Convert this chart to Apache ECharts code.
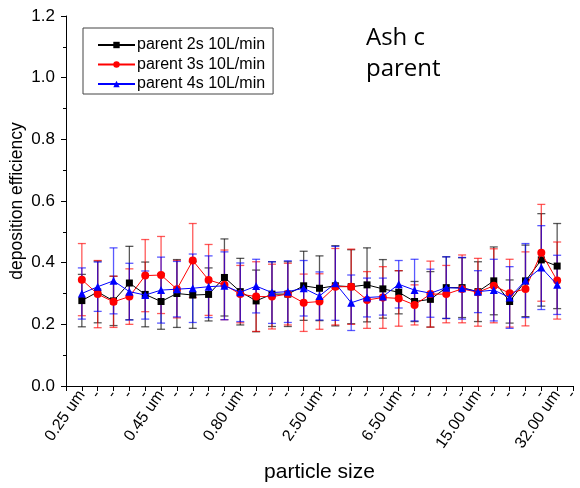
<!DOCTYPE html>
<html>
<head>
<meta charset="utf-8">
<script src="https://cdn.jsdelivr.net/npm/echarts@6/dist/echarts.min.js"></script>
<style>
  html, body { margin: 0; padding: 0; background: #fff; }
  #chart { width: 580px; height: 488px; }
</style>
</head>
<body>
<div id="chart"></div>
<script>
// x categories (index 0 and 32 are empty slots at the axis ends)
const categories = ['', '0.25 um', '-', '-', '-', '-', '0.45 um', '-', '-', '-', '-',
  '0.80 um', '-', '-', '-', '-', '2.50 um', '-', '-', '-', '-',
  '6.50 um', '-', '-', '-', '-', '15.00 um', '-', '-', '-', '-', '32.00 um', '-']

const seriesNames = ['parent 2s 10L/min', 'parent 3s 10L/min', 'parent 4s 10L/min']

// means
const black = [null, 0.277, 0.305, 0.276, 0.334, 0.297, 0.274, 0.300, 0.295, 0.297, 0.352,
  0.306, 0.276, 0.298, 0.298, 0.325, 0.317, 0.325, 0.322, 0.328, 0.315,
  0.304, 0.274, 0.281, 0.319, 0.319, 0.306, 0.341, 0.274, 0.341, 0.409, 0.389, null]
const red = [null, 0.345, 0.298, 0.273, 0.290, 0.358, 0.360, 0.314, 0.407, 0.344, 0.328,
  0.298, 0.290, 0.290, 0.298, 0.270, 0.274, 0.322, 0.322, 0.279, 0.287,
  0.284, 0.263, 0.298, 0.298, 0.315, 0.304, 0.325, 0.301, 0.315, 0.432, 0.342, null]
const blue = [null, 0.300, 0.322, 0.341, 0.306, 0.295, 0.311, 0.314, 0.317, 0.322, 0.325,
  0.304, 0.324, 0.303, 0.306, 0.317, 0.292, 0.333, 0.270, 0.287, 0.290,
  0.330, 0.311, 0.301, 0.319, 0.317, 0.306, 0.311, 0.287, 0.342, 0.384, 0.328, null]

// error (+/-)
const blackErr = [null, 0.085, 0.100, 0.080, 0.119, 0.105, 0.090, 0.110, 0.108, 0.086, 0.125,
  0.108, 0.100, 0.105, 0.105, 0.112, 0.105, 0.130, 0.120, 0.120, 0.095,
  0.070, 0.065, 0.090, 0.100, 0.097, 0.097, 0.110, 0.070, 0.116, 0.150, 0.138, null]
const redErr = [null, 0.117, 0.109, 0.083, 0.090, 0.117, 0.125, 0.093, 0.120, 0.115, 0.113,
  0.093, 0.113, 0.105, 0.100, 0.093, 0.090, 0.124, 0.122, 0.092, 0.100,
  0.090, 0.065, 0.107, 0.093, 0.110, 0.110, 0.120, 0.110, 0.120, 0.157, 0.125, null]
const blueErr = [null, 0.083, 0.080, 0.107, 0.092, 0.078, 0.107, 0.090, 0.111, 0.100, 0.110,
  0.095, 0.087, 0.100, 0.100, 0.090, 0.078, 0.120, 0.090, 0.063, 0.060,
  0.077, 0.100, 0.078, 0.100, 0.100, 0.068, 0.100, 0.100, 0.120, 0.136, 0.096, null]

const colors = ['#000000', '#ff0000', '#0000ff']
const symbols = ['rect', 'circle', 'triangle']

const chart = echarts.init(document.getElementById('chart'), null, { renderer: 'canvas' })

// error bars as custom series
function errorBars(means, errs, color) {
  const data = []
  means.forEach((m, i) => {
    if (m != null) data.push([i, m - errs[i], m + errs[i]])
  })
  return {
    type: 'custom',
    silent: true,
    z: 1,
    data: data,
    encode: { x: 0, y: [1, 2] },
    renderItem(params, api) {
      const i = api.value(0)
      const lo = api.coord([i, api.value(1)])
      const hi = api.coord([i, api.value(2)])
      const w = 4
      const style = { stroke: color, lineWidth: 1.3, opacity: 0.65 }
      return {
        type: 'group',
        children: [
          { type: 'line', shape: { x1: lo[0], y1: lo[1], x2: hi[0], y2: hi[1] }, style },
          { type: 'line', shape: { x1: lo[0] - w, y1: lo[1], x2: lo[0] + w, y2: lo[1] }, style },
          { type: 'line', shape: { x1: hi[0] - w, y1: hi[1], x2: hi[0] + w, y2: hi[1] }, style }
        ]
      }
    }
  }
}

const means = [black, red, blue]
const errs = [blackErr, redErr, blueErr]

const series = []
means.forEach((m, k) => series.push(errorBars(m, errs[k], colors[k])))
means.forEach((m, k) => {
  series.push({
    name: seriesNames[k],
    type: 'line',
    z: 2 + k,
    data: m,
    symbol: symbols[k],
    symbolSize: k === 0 ? 7 : 8,
    showAllSymbol: true,
    lineStyle: { color: colors[k], width: 1 },
    itemStyle: { color: colors[k] }
  })
})

const option = {
  animation: false,
  textStyle: { fontFamily: 'Liberation Sans, Arial, sans-serif' },
  grid: { left: 66, right: 7, top: 16, bottom: 102, outerBoundsMode: 'none', containLabel: false },
  legend: {
    data: seriesNames,
    orient: 'vertical',
    left: 83,
    top: 28,
    padding: [9, 8, 2, 14],
    itemGap: 3.5,
    itemWidth: 37,
    itemHeight: 8,
    borderColor: '#444',
    borderWidth: 1,
    textStyle: { fontSize: 16, color: '#000', padding: [0, 0, 0, -3] }
  },
  xAxis: {
    type: 'category',
    data: categories,
    boundaryGap: false,
    name: 'particle size',
    nameLocation: 'middle',
    nameGap: 76,
    nameMoveOverlap: false,
    nameTextStyle: { fontSize: 21, color: '#000' },
    axisLine: { lineStyle: { color: '#000', width: 1 } },
    axisTick: { show: true, interval: 0, length: 5, lineStyle: { color: '#000' } },
    axisLabel: { interval: 0, hideOverlap: false, rotate: 55, fontSize: 16, color: '#000', margin: 6 },
    splitLine: { show: false }
  },
  yAxis: {
    type: 'value',
    min: 0,
    max: 1.2,
    interval: 0.2,
    name: 'deposition efficiency',
    nameLocation: 'middle',
    nameGap: 40,
    nameMoveOverlap: false,
    nameTextStyle: { fontSize: 17.5, color: '#000' },
    axisLine: { show: true, lineStyle: { color: '#000', width: 1 } },
    axisTick: { show: true, length: 5, lineStyle: { color: '#000' } },
    minorTick: { show: true, splitNumber: 2, length: 3, lineStyle: { color: '#000' } },
    axisLabel: { fontSize: 17, color: '#000', margin: 11, formatter: v => v.toFixed(1) },
    splitLine: { show: false }
  },
  graphic: [{
    type: 'text',
    left: 366,
    top: 23,
    style: { text: 'Ash c\nparent', fontSize: 24, lineHeight: 31, fill: '#000', fontFamily: 'Open Sans' }
  }],
  series: series
}

chart.setOption(option)
</script>
</body>
</html>
